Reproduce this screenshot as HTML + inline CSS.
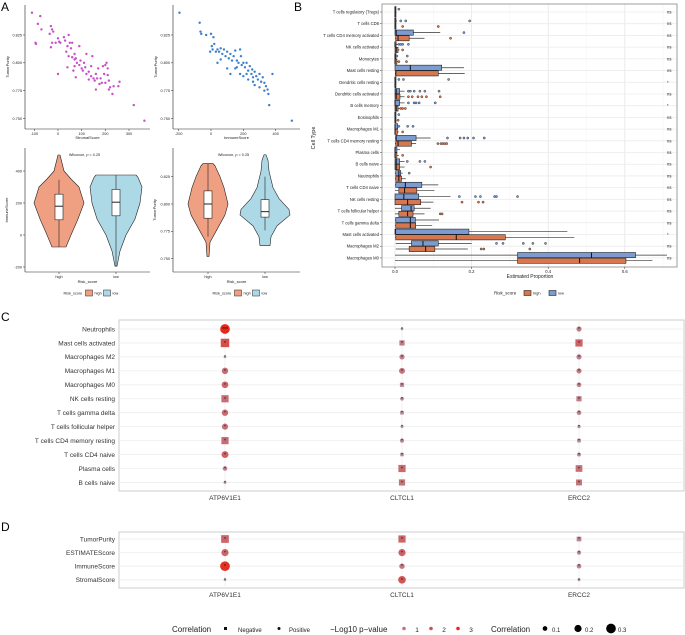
<!DOCTYPE html>
<html><head><meta charset="utf-8"><style>
body{margin:0;background:#fff}
svg{display:block;font-family:"Liberation Sans",sans-serif}
</style></head><body>
<svg id="fig" width="685" height="635" viewBox="0 0 685 635" xmlns="http://www.w3.org/2000/svg">
<rect width="685" height="635" fill="#fff"/>
<text x="1" y="11" font-size="12">A</text>
<text x="294" y="11" font-size="12">B</text>
<text x="1" y="321" font-size="12">C</text>
<text x="1" y="531" font-size="12">D</text>
</svg>
<script>
// ---------- DATA ----------
const stromalX=[-110,-85,-75,-95,-93,-70,-30,-25,-20,-35,-25,-30,-10,5,0,10,25,30,40,45,50,55,60,35,45,60,70,75,80,70,90,95,90,65,40,0,110,105,115,120,130,140,145,150,155,160,165,170,175,180,185,195,200,205,210,190,210,215,200,220,235,255,260,230,215,160,130,120,100,75,320,365,70,140];
const stromalY=[0.845,0.835,0.842,0.818,0.817,0.830,0.833,0.830,0.828,0.826,0.818,0.814,0.818,0.819,0.822,0.818,0.823,0.820,0.815,0.825,0.818,0.813,0.818,0.810,0.806,0.805,0.808,0.804,0.800,0.797,0.798,0.802,0.815,0.793,0.796,0.790,0.800,0.793,0.796,0.808,0.792,0.788,0.806,0.786,0.784,0.790,0.786,0.795,0.781,0.786,0.782,0.790,0.798,0.800,0.795,0.797,0.789,0.784,0.782,0.778,0.779,0.779,0.783,0.772,0.776,0.776,0.785,0.790,0.795,0.787,0.762,0.748,0.803,0.797];
const immuneX=[-195,-70,-65,-60,-30,0,15,20,10,5,-5,30,40,50,60,70,80,90,100,110,120,130,140,150,160,170,180,185,190,200,210,220,230,240,250,255,260,270,280,290,300,310,320,330,340,350,355,360,380,200,180,150,120,100,60,40,230,270,300,330,500,220,160,260];
const immuneY=[0.845,0.836,0.828,0.826,0.825,0.826,0.823,0.817,0.812,0.815,0.810,0.810,0.812,0.810,0.813,0.808,0.812,0.806,0.810,0.804,0.808,0.802,0.806,0.811,0.802,0.800,0.812,0.806,0.798,0.800,0.796,0.800,0.793,0.797,0.790,0.794,0.787,0.792,0.788,0.785,0.790,0.783,0.787,0.782,0.779,0.776,0.772,0.762,0.790,0.788,0.790,0.795,0.790,0.795,0.803,0.800,0.785,0.780,0.778,0.775,0.748,0.790,0.796,0.783];
// violin densities
const v1HighY=[-75,0,100,200,300,350,400,450,500];
const v1HighW=[7,12,19,25,20,12,5,3,1];
const v1LowY=[-195,-100,0,100,200,300,360,375];
const v1LowW=[1,4,10,19,24,26,22,20];
const v1HighBox=[-75,95,180,255,345];
const v1LowBox=[-195,120,205,285,375];
const v2HighY=[0.752,0.765,0.775,0.790,0.800,0.815,0.825,0.835,0.837];
const v2HighW=[1,2,8,17,20,16,12,7,5];
const v2LowY=[0.762,0.770,0.780,0.790,0.795,0.805,0.815,0.830,0.840,0.845];
const v2LowW=[5,6,12,25,24,14,8,4,3,1];
const v2HighBox=[0.770,0.787,0.800,0.812,0.837];
const v2LowBox=[0.776,0.788,0.793,0.804,0.825];
// panel B
const cellTypes=["T cells regulatory (Tregs)","T cells CD8","T cells CD4 memory activated","NK cells activated","Monocytes","Mast cells resting","Dendritic cells resting","Dendritic cells activated","B cells memory","Eosinophils","Macrophages M1","T cells CD4 memory resting","Plasma cells","B cells naive","Neutrophils","T cells CD4 naive","NK cells resting","T cells follicular helper","T cells gamma delta","Mast cells activated","Macrophages M2","Macrophages M0"];
const sigLabels=["ns","ns","ns","ns","ns","ns","*","ns","*","ns","ns","ns","ns","ns","ns","ns","ns","ns","ns","*","ns","ns"];
// [whiskerLo, q1, median, q3, whiskerHi]
const lowBoxes=[[0,0,0,0,0.003],[0,0,0,0,0.005],[0,0,0.003,0.048,0.118],[0,0,0,0.003,0.008],[0,0,0,0,0.002],[0,0,0.04,0.122,0.18],[0,0,0,0,0.003],[0,0,0.003,0.012,0.025],[0,0,0,0.012,0.025],[0,0,0,0,0.003],[0,0,0,0.007,0.01],[0,0.002,0.003,0.055,0.093],[0,0,0,0.005,0.013],[0,0,0.003,0.012,0.025],[0,0.002,0.01,0.015,0.02],[0,0.002,0.027,0.07,0.113],[0,0,0.023,0.062,0.145],[0,0.017,0.042,0.05,0.093],[0,0.002,0.04,0.053,0.115],[0,0,0.001,0.193,0.45],[0.002,0.043,0.073,0.113,0.2],[0,0.32,0.513,0.628,0.71]];
const highBoxes=[[0,0,0,0,0.002],[0,0,0,0,0.003],[0,0.002,0.008,0.037,0.077],[0,0,0.003,0.008,0.012],[0,0,0,0.005,0.008],[0,0.002,0.002,0.113,0.182],[0,0,0,0,0.002],[0,0,0.003,0.013,0.025],[0,0,0.003,0.008,0.012],[0,0,0,0,0.004],[0,0,0,0.006,0.01],[0,0.002,0.008,0.043,0.055],[0,0,0,0.005,0.01],[0,0,0.003,0.012,0.025],[0,0.002,0.01,0.017,0.028],[0,0.01,0.025,0.057,0.103],[0,0,0.033,0.067,0.1],[0,0.01,0.033,0.047,0.077],[0,0.002,0.04,0.054,0.097],[0,0.002,0.16,0.288,0.468],[0.002,0.037,0.08,0.104,0.19],[0,0.32,0.482,0.603,0.672]];
const lowOut=[[0.01],[0.015,0.028,0.195],[0.18],[0.01,0.015,0.02,0.035],[0.005,0.032],[],[0.01,0.022,0.14],[0.035,0.04,0.05,0.065,0.078,0.115],[0.035,0.05,0.055,0.063,0.105],[0.01],[0.01,0.033,0.047],[0.137,0.17,0.18,0.19,0.205,0.233],[],[0.032,0.065,0.078],[0.037],[],[0.168,0.21,0.223,0.26,0.265,0.32],[],[],[],[0.265,0.282,0.335,0.36,0.393],[]];
const highOut=[[],[0.02,0.113],[0.145],[0.02],[0.01,0.03],[],[],[0.035,0.045,0.06,0.07,0.082,0.118],[0.015,0.02,0.027],[0.008],[0.02],[0.112,0.12,0.125,0.13,0.135],[0.02],[0.093],[],[],[0.175,0.218,0.23],[0.118,0.123],[],[],[0.225,0.232,0.352],[]];
const bTicks=[0,0.2,0.4,0.6];
const bTickLabels=["0.0","0.2","0.4","0.6"];
// panel C/D
const genes=["ATP6V1E1","CLTCL1","ERCC2"];
const cRows=["Neutrophils","Mast cells activated","Macrophages M2","Macrophages M1","Macrophages M0","NK cells resting","T cells gamma delta","T cells follicular helper","T cells CD4 memory resting","T cells CD4 naive","Plasma cells","B cells naive"];
// shape: 1=negative(square) 0=positive(circle)
const cShape=[[0,0,0],[1,1,1],[0,0,0],[0,0,0],[0,1,0],[1,0,1],[0,1,0],[0,0,0],[1,0,1],[0,1,0],[0,1,1],[0,1,1]];
const cCorr=[[0.3,0.02,0.12],[0.25,0.12,0.2],[0.02,0.12,0.12],[0.17,0.15,0.12],[0.18,0.08,0.1],[0.2,0.06,0.12],[0.17,0.06,0.1],[0.16,0.03,0.04],[0.2,0.08,0.06],[0.19,0.05,0.07],[0.1,0.2,0.18],[0.03,0.16,0.15]];
const cP=[[3,0.2,0.8],[2,0.8,1.5],[0.1,0.7,0.7],[1.2,1.0,0.8],[1.4,0.5,0.6],[1.2,0.4,0.8],[1.2,0.4,0.6],[1.1,0.2,0.3],[1.2,0.5,0.4],[1.5,0.4,0.5],[0.6,1.3,1.1],[0.2,1.0,1.0]];
const cStar=[["***","*","*"],["*","*","*"],["*","*","*"],["*","*","*"],["*","*","*"],["*","*","*"],["*","*","*"],["*","*","*"],["*","*","*"],["*","*","*"],["*","*","*"],["*","*","*"]];
const dRows=["TumorPurity","ESTIMATEScore","ImmuneScore","StromalScore"];
const dShape=[[1,1,1],[0,0,0],[0,0,0],[0,0,0]];
const dCorr=[[0.22,0.2,0.1],[0.2,0.2,0.08],[0.3,0.13,0.1],[0.02,0.22,0.03]];
const dP=[[1.4,1.4,0.6],[1.4,1.5,0.5],[2.8,0.9,0.6],[0.1,1.8,0.2]];
const dStar=[["*","*","*"],["*","*","*"],["*","*","*"],["*","*","*"]];

// ---------- helpers ----------
const svg=document.getElementById('fig');
const NS='http://www.w3.org/2000/svg';
function mk(tag,attrs,name,parent){
  const el=document.createElementNS(NS,tag);
  for(const k in attrs) el.setAttribute(k,attrs[k]);
  
  
  (parent||svg).appendChild(el);
  return el;
}
function txt(x,y,s,size,name,anchor,extra){
  const a=Object.assign({x:x,y:y,'font-size':size,'text-anchor':anchor||'start',fill:'#222'},extra||{});
  const t=mk('text',a,name);t.textContent=s;return t;
}
function line(x1,y1,x2,y2,stroke,w,name){return mk('line',{x1,y1,x2,y2,stroke,'stroke-width':w},name);}

// ---------- Panel A scatters ----------
function scatter(ax,xs,ys,xTicks,xLabel,color,nm){
  const X=ax.x, Y=v=>35+(0.825-v)*1113;
  line(ax.left,5,ax.left,129,'#222',0.6,nm+'-y-axis');
  line(ax.left,129,ax.right,129,'#222',0.6,nm+'-x-axis');
  [0.825,0.8,0.775,0.75].forEach(t=>{
    line(ax.left-2,Y(t),ax.left,Y(t),'#222',0.5,nm+'-y-tick');
    txt(ax.left-3,Y(t)+1.3,t.toFixed(3),3.8,nm+'-y-tick-label','end');
  });
  xTicks.forEach(t=>{
    line(X(t),129,X(t),131,'#222',0.5,nm+'-x-tick');
    txt(X(t),135,String(t),3.8,nm+'-x-tick-label','middle');
  });
  txt((ax.left+ax.right)/2,139,xLabel,4,nm+'-x-axis-title','middle');
  txt(0,0,'TumorPurity',4,nm+'-y-axis-title','middle',{transform:`translate(${ax.left-16},67) rotate(-90)`});
  xs.forEach((v,i)=>mk('circle',{cx:X(v),cy:Y(ys[i]),r:1.2,fill:color},nm+'-point'));
}
scatter({left:25,right:150,x:v=>58+v*0.2367},stromalX,stromalY,[-100,0,100,200,300],'StromalScore','#c84fc8','stromal-scatter');
scatter({left:173,right:300,x:v=>211+v*0.1617},immuneX,immuneY,[-200,0,200,400],'ImmuneScore','#3a7fd0','immune-scatter');

// ---------- violins ----------
function violin(cx,Y,ys,ws,fill,nm){
  let d='M'+(cx+ws[0])+','+Y(ys[0]);
  for(let i=1;i<ys.length;i++) d+=' L'+(cx+ws[i])+','+Y(ys[i]);
  for(let i=ys.length-1;i>=0;i--) d+=' L'+(cx-ws[i])+','+Y(ys[i]);
  mk('path',{d:d+'Z',fill,stroke:'#222','stroke-width':0.6,'stroke-linejoin':'round'},nm);
}
function box(cx,Y,b,nm){
  line(cx,Y(b[0]),cx,Y(b[4]),'#222',0.6,nm+'-whisker');
  mk('rect',{x:cx-4,y:Y(b[3]),width:8,height:Y(b[1])-Y(b[3]),fill:'#fff',stroke:'#222','stroke-width':0.6},nm+'-box');
  line(cx-4,Y(b[2]),cx+4,Y(b[2]),'#222',1,nm+'-median');
}
function violinPanel(left,right,Y,ticks,fmt,ylabel,cH,cL,hy,hw,ly,lw,hb,lb,nm){
  line(left,148,left,272,'#222',0.6,nm+'-y-axis');
  line(left,272,right,272,'#222',0.6,nm+'-x-axis');
  ticks.forEach(t=>{line(left-2,Y(t),left,Y(t),'#222',0.5,nm+'-y-tick');txt(left-3,Y(t)+1.3,fmt(t),3.8,nm+'-y-tick-label','end');});
  violin(cH,Y,hy,hw,'#ef9f82',nm+'-violin-high');
  violin(cL,Y,ly,lw,'#add8e6',nm+'-violin-low');
  box(cH,Y,hb,nm+'-high');box(cL,Y,lb,nm+'-low');
  [[cH,'high'],[cL,'low']].forEach(p=>{line(p[0],272,p[0],274,'#222',0.5,nm+'-x-tick');txt(p[0],278,p[1],3.8,nm+'-x-tick-label','middle');});
  txt((left+right)/2,283,'Risk_score',4,nm+'-x-axis-title','middle');
  txt(0,0,ylabel,4,nm+'-y-axis-title','middle',{transform:`translate(${left-17},210) rotate(-90)`});
  txt((cH+cL)/2-3,156,'Wilcoxon, p = 0.25',3.8,nm+'-p-value','middle');
  const lx=(left+right)/2-24;
  txt(lx,294.5,'Risk_score',3.8,nm+'-legend-title');
  mk('rect',{x:lx+22,y:290,width:7,height:6,fill:'#ef9f82',stroke:'#222','stroke-width':0.5},nm+'-legend-high');
  txt(lx+31,294.5,'high',3.8,nm+'-legend-high-label');
  mk('rect',{x:lx+40,y:290,width:7,height:6,fill:'#add8e6',stroke:'#222','stroke-width':0.5},nm+'-legend-low');
  txt(lx+49,294.5,'low',3.8,nm+'-legend-low-label');
}
violinPanel(25,150,v=>235-v*0.16,[400,200,0,-200],t=>String(t),'ImmuneScore',59,116,v1HighY,v1HighW,v1LowY,v1LowW,v1HighBox,v1LowBox,'immune-violin');
violinPanel(173,300,v=>204-(v-0.8)*1093,[0.825,0.8,0.775,0.75],t=>t.toFixed(3),'TumorPurity',208,265,v2HighY,v2HighW,v2LowY,v2LowW,v2HighBox,v2LowBox,'purity-violin');

// ---------- Panel B ----------
(function(){
  const X=v=>395+v*383, RY=i=>12+i*11.71, L=382,R=677,T=4,B=267;
  mk('rect',{x:L,y:T,width:R-L,height:B-T,fill:'#fff'},'b-plot-bg');
  [0.1,0.3,0.5,0.7].forEach(v=>line(X(v),T,X(v),B,'#f3f3f3',0.5,'b-minor-grid'));
  bTicks.forEach(v=>line(X(v),T,X(v),B,'#e6e6e6',0.8,'b-major-grid'));
  cellTypes.forEach((c,i)=>{
    line(L,RY(i),R,RY(i),'#ebebeb',0.8,'b-row-grid');
    line(L-2,RY(i),L,RY(i),'#333',0.5,'b-y-tick');
    txt(L-3,RY(i)+1.5,c,4.2,'b-cell-type-label','end');
    txt(667,RY(i)+1.5,sigLabels[i],4.2,'b-significance-label','start');
  });
  function drawBox(b,y,fill,outs,nm){
    line(X(b[0]),y,X(b[4]),y,'#333',0.7,nm+'-whisker');
    mk('rect',{x:X(b[1]),y:y-2.6,width:Math.max(X(b[3])-X(b[1]),1),height:5.2,fill,stroke:'#222','stroke-width':0.6},nm+'-box');
    line(X(b[2]),y-2.6,X(b[2]),y+2.6,'#111',1,nm+'-median');
    outs.forEach(o=>mk('circle',{cx:X(o),cy:y,r:1.1,fill:fill,stroke:'#222','stroke-width':0.4},nm+'-outlier'));
  }
  cellTypes.forEach((c,i)=>{
    drawBox(lowBoxes[i],RY(i)-2.8,'#7b9bd1',lowOut[i],'b-low');
    drawBox(highBoxes[i],RY(i)+2.8,'#d7774f',highOut[i],'b-high');
  });
  mk('rect',{x:L,y:T,width:R-L,height:B-T,fill:'none',stroke:'#888','stroke-width':0.8},'b-plot-border');
  bTicks.forEach((v,i)=>{line(X(v),B,X(v),B+2,'#333',0.5,'b-x-tick');txt(X(v),B+6,bTickLabels[i],4.2,'b-x-tick-label','middle');});
  txt(530,278,'Estimated Proportion',5,'b-x-axis-title','middle');
  txt(0,0,'Cell Type',5.5,'b-y-axis-title','middle',{transform:'translate(315,138) rotate(-90)'});
  txt(494,294.5,'Risk_score',4.5,'b-legend-title');
  mk('rect',{x:524,y:290.5,width:7,height:5,fill:'#d7774f',stroke:'#222','stroke-width':0.6},'b-legend-high');
  txt(533,294.5,'high',4,'b-legend-high-label');
  mk('rect',{x:549,y:290.5,width:7,height:5,fill:'#7b9bd1',stroke:'#222','stroke-width':0.6},'b-legend-low');
  txt(558,294.5,'low',4,'b-legend-low-label');
})();

// ---------- Panels C & D ----------
const GX=[225,402,579];
function pColor(p){
  const t=Math.max(0,Math.min(1,p/3));
  const a=[176,156,176], b=[232,40,24];
  return 'rgb('+a.map((v,i)=>Math.round(v+(b[i]-v)*t)).join(',')+')';
}
function msize(c){return 1.1+c*12.5;}
function dotPanel(rows,shape,corr,pv,stars,top,bottom,y0,step,nm){
  const L=119,R=684;
  mk('rect',{x:L,y:top,width:R-L,height:bottom-top,fill:'#fff',stroke:'#ccc','stroke-width':1},nm+'-plot-border');
  GX.forEach(x=>line(x,top,x,bottom,'#eeeeee',0.8,nm+'-col-grid'));
  rows.forEach((r,i)=>{
    const y=y0+i*step;
    line(L,y,R,y,'#eeeeee',0.8,nm+'-row-grid');
    txt(L-4,y+2.3,r,6.5,nm+'-row-label','end',{fill:'#333'});
  });
  rows.forEach((r,i)=>{
    const y=y0+i*step;
    GX.forEach((x,j)=>{
      const s=msize(corr[i][j]), col=pColor(pv[i][j]);
      if(shape[i][j]) mk('rect',{x:x-s,y:y-s,width:2*s,height:2*s,fill:col},nm+'-marker-square');
      else mk('circle',{cx:x,cy:y,r:s,fill:col},nm+'-marker-circle');
      txt(x,y+2,stars[i][j],5,nm+'-significance-star','middle',{fill:'#111'});
    });
  });
  genes.forEach((g,j)=>txt(GX[j],bottom+9,g,6.5,nm+'-gene-label','middle',{fill:'#333'}));
}
dotPanel(cRows,cShape,cCorr,cP,cStar,320,491,329,13.95,'c');
dotPanel(dRows,dShape,dCorr,dP,dStar,532,588,539,13.6,'d');

// legend
txt(172,632,'Correlation',8,'legend-shape-title','start',{fill:'#222'});
mk('rect',{x:224,y:627,width:3,height:3,fill:'#111'},'legend-negative-symbol');
txt(238,632,'Negative',6,'legend-negative-label');
mk('circle',{cx:279,cy:628.5,r:1.5,fill:'#111'},'legend-positive-symbol');
txt(289,632,'Positive',6,'legend-positive-label');
txt(330,632,'\u2212Log10 p\u2212value',8,'legend-pvalue-title');
[[404,1],[431,2],[458,3]].forEach(p=>{
  mk('circle',{cx:p[0],cy:628.5,r:1.8,fill:pColor(p[1])},'legend-pvalue-dot');
  txt(p[0]+13,632,String(p[1]),6.5,'legend-pvalue-label','middle');
});
txt(491,632,'Correlation',8,'legend-size-title');
[[545,0.1,'0.1'],[578,0.2,'0.2'],[611,0.3,'0.3']].forEach(p=>{
  mk('circle',{cx:p[0],cy:628.5,r:msize(p[1]),fill:'#000'},'legend-size-dot');
  txt(p[0]+7,632,p[2],6,'legend-size-label');
});
</script>
</body></html>
